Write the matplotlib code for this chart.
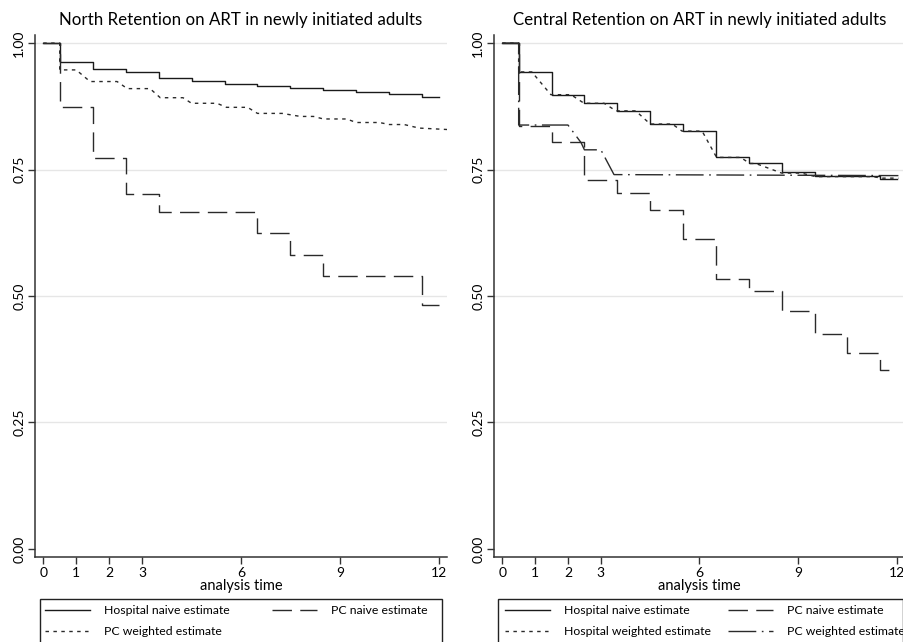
import matplotlib
matplotlib.use("Agg")
import matplotlib.pyplot as plt
from matplotlib.patches import Rectangle
from matplotlib.legend import Legend

plt.rcParams['font.family'] = ['Lato', 'DejaVu Sans']
plt.rcParams['lines.scale_dashes'] = False

# step times (months) for the naive Kaplan-Meier curves
step_t = [0.5, 1.5, 2.5, 3.5, 4.5, 5.5, 6.5, 7.5, 8.5, 9.5, 10.5, 11.5]
end_t = 12

# North
north_hosp = [0.962, 0.948, 0.943, 0.931, 0.926, 0.920, 0.916, 0.912, 0.908, 0.903, 0.900, 0.894]
north_pc = [0.873, 0.772, 0.701, 0.666, 0.666, 0.666, 0.625, 0.582, 0.539, 0.539, 0.539, 0.482]
north_pcw_t = [0, 0.5, 0.5, 1.0, 1.42, 2.24, 2.55, 3.24, 3.55, 4.24, 4.5, 5.27, 5.56, 6.2, 6.5,
               7.25, 7.8, 8.2, 8.5, 9.2, 9.5, 10.2, 10.5, 10.95, 11.4, 12.3]
north_pcw_v = [1, 1, 0.947, 0.947, 0.924, 0.924, 0.910, 0.910, 0.892, 0.892, 0.881, 0.881, 0.873, 0.873, 0.861,
               0.861, 0.855, 0.855, 0.850, 0.850, 0.843, 0.843, 0.839, 0.839, 0.832, 0.829]

# Central
central_hosp = [0.943, 0.898, 0.881, 0.866, 0.840, 0.827, 0.774, 0.762, 0.745, 0.737, 0.737, 0.731]
central_pc = [0.837, 0.804, 0.729, 0.703, 0.670, 0.613, 0.534, 0.509, 0.471, 0.425, 0.387, 0.354]
central_hw_t = [0, 0.5, 0.5, 0.9, 1.48, 2.09, 2.49, 3.1, 3.46, 4.06, 4.5, 5.17, 5.47, 6.08, 6.52,
                7.25, 7.53, 7.71, 8.5, 9.1, 9.53, 11.25, 11.56, 12.05]
central_hw_v = [1, 1, 0.943, 0.943, 0.898, 0.898, 0.881, 0.881, 0.866, 0.866, 0.840, 0.840, 0.826, 0.826, 0.774,
                0.774, 0.762, 0.762, 0.743, 0.743, 0.736, 0.736, 0.733, 0.733]
central_pcw_t = [0, 0.5, 0.5, 2.0, 2.4, 2.5, 3.0, 3.4, 12.05]
central_pcw_v = [1, 1, 0.838, 0.838, 0.803, 0.789, 0.789, 0.740, 0.738]

x_ticks = [0, 1, 2, 3, 6, 9, 12]
y_ticks = [0, 0.25, 0.5, 0.75, 1.0]

solid = dict(color='#1a1a1a', lw=1.0)
dashed = dict(color='#2a2a2a', lw=1.0, dashes=(14, 6))
dotted = dict(color='#2a2a2a', lw=1.0, dashes=(2.5, 3.2))
dashdot = dict(color='#2a2a2a', lw=1.0, dashes=(20, 4, 1.2, 4))

W, H = 904, 642


def km(vals):
    return [0] + step_t + [end_t], [1.0] + vals + [vals[-1]]


def style_axes(ax, title):
    ax.set_xlim(-0.25, 12.25)
    ax.set_ylim(-0.016, 1.016)
    ax.set_xticks(x_ticks)
    ax.set_yticks(y_ticks)
    ax.set_yticklabels(['%.2f' % v for v in y_ticks], rotation=90, va='center')
    for v in y_ticks[1:]:
        ax.axhline(v, color='#e6e6e6', lw=1.0, zorder=0)
    ax.spines['top'].set_visible(False)
    ax.spines['right'].set_visible(False)
    for s in ('left', 'bottom'):
        ax.spines[s].set_color('#333333')
        ax.spines[s].set_linewidth(1.1)
    ax.tick_params(direction='out', length=5, width=1, color='#333333', labelsize=10, pad=2)
    ax.set_xlabel('analysis time', fontsize=10.5, labelpad=0)
    ax.set_title(title, fontsize=12.2, pad=7)


def legend_column(ax, handles, labels, x_px):
    leg = Legend(ax, handles, labels, loc='upper left', bbox_to_anchor=(x_px / W, 1 - 605 / H),
                 bbox_transform=fig.transFigure, frameon=False, borderpad=0, borderaxespad=0,
                 fontsize=8.8, handlelength=3.7, handletextpad=1.15, labelspacing=0.85)
    ax.add_artist(leg)


def legend_box(x0, x1):
    fig.add_artist(Rectangle((x0 / W, -0.05), (x1 - x0) / W, 0.05 + (642 - 599) / H,
                             transform=fig.transFigure, fill=False, ec='#222222', lw=1.0))


fig = plt.figure(figsize=(9.04, 6.42), dpi=100)
ax1 = fig.add_axes([35 / W, 85 / H, 412 / W, 522 / H])
ax2 = fig.add_axes([494 / W, 85 / H, 411 / W, 522 / H])

x, y = km(north_hosp)
l_hn, = ax1.step(x, y, where='post', **solid)
x, y = km(north_pc)
l_pn, = ax1.step(x, y, where='post', **dashed)
l_pw, = ax1.plot(north_pcw_t, north_pcw_v, **dotted)
style_axes(ax1, 'North Retention on ART in newly initiated adults')
legend_column(ax1, [l_hn, l_pw], ['Hospital naive estimate', 'PC weighted estimate'], 45)
legend_column(ax1, [l_pn], ['PC naive estimate'], 272)
legend_box(40, 442)

x, y = km(central_hosp)
c_hn, = ax2.step(x, y, where='post', **solid)
c_hw, = ax2.plot(central_hw_t, central_hw_v, **dotted)
x, y = km(central_pc)
c_pn, = ax2.step(x, y, where='post', **dashed)
c_pw, = ax2.plot(central_pcw_t, central_pcw_v, **dashdot)
style_axes(ax2, 'Central Retention on ART in newly initiated adults')
legend_column(ax2, [c_hn, c_hw], ['Hospital naive estimate', 'Hospital weighted estimate'], 505)
legend_column(ax2, [c_pn, c_pw], ['PC naive estimate', 'PC weighted estimate'], 728)
legend_box(498, 903)

fig.savefig('out.png', dpi=100)
